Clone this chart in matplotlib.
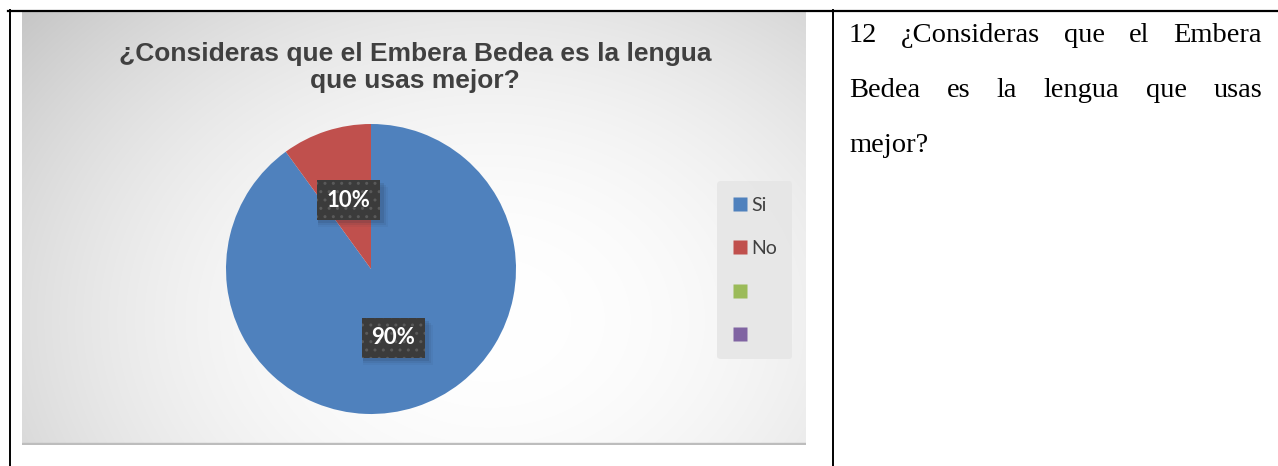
import numpy as np
import matplotlib
matplotlib.use("Agg")
import matplotlib.pyplot as plt
from matplotlib.lines import Line2D
from matplotlib.patches import Rectangle
from matplotlib.transforms import IdentityTransform

# Survey answers
categories = ["Si", "No", "", ""]
shares = [90, 10]
colors = ["#4f81bd", "#c0504d", "#9bbb59", "#8064a2"]
chart_title = "¿Consideras que el Embera Bedea es la lengua\nque usas mejor?"
question_lines = ["12 ¿Consideras que el Embera", "Bedea es la lengua que usas", "mejor?"]

W, H = 1278, 466
fig = plt.figure(figsize=(W / 100, H / 100), dpi=100)
fig.patch.set_facecolor("white")


def px_rect(x0, y0, x1, y1):
    return [x0 / W, 1 - y1 / H, (x1 - x0) / W, (y1 - y0) / H]


# Chart area with radial gradient background
cx0, cy0, cx1, cy1 = 22, 12, 806, 445
bg = fig.add_axes(px_rect(cx0, cy0, cx1, cy1))
gx = np.linspace(cx0, cx1, 400)
gy = np.linspace(cy0, cy1, 240)
X, Y = np.meshgrid(gx, gy)
r = np.sqrt(((X - 490) / 560) ** 2 + ((Y - 320) / 430) ** 2)
shade = 1.0 - 0.185 * np.clip(r, 0, 1.3) ** 2
bg.imshow(np.dstack([shade] * 3), extent=[cx0, cx1, cy1, cy0], aspect="auto",
          interpolation="bilinear")
bg.add_patch(Rectangle((cx0, cy1 - 2), cx1 - cx0, 2, color="#bdbdbd"))
bg.set_xlim(cx0, cx1)
bg.set_ylim(cy1, cy0)
bg.axis("off")

# Overlay axes in pixel units for table rules and free text
ov = fig.add_axes([0, 0, 1, 1], zorder=10)
ov.set_xlim(0, W)
ov.set_ylim(H, 0)
ov.axis("off")

for line, base in zip(chart_title.split("\n"), [61, 88]):
    ov.text(415, base, line, ha="center", va="baseline", fontsize=19,
            fontweight="bold", color="#404040", family="Liberation Sans")

# Pie
pcx, pcy, pr = 371, 269, 145
pie_ax = fig.add_axes(px_rect(pcx - pr, pcy - pr, pcx + pr, pcy + pr), zorder=2)
wedges, _, autotexts = pie_ax.pie(
    shares, colors=colors[:2], startangle=90, counterclock=False,
    autopct=lambda p: f"{p:.0f}%", pctdistance=0.5,
    wedgeprops=dict(linewidth=0))
pie_ax.set_xlim(-1, 1)
pie_ax.set_ylim(-1, 1)
pie_ax.set_aspect("equal")
for t in autotexts:
    t.set_color("white")
    t.set_fontsize(16)
    t.set_fontweight("bold")
    t.set_family("Lato")
    t.set_bbox(dict(boxstyle="square,pad=0.42", facecolor="#3b3b3b",
                    edgecolor="#5a5a5a", linewidth=0, hatch=".."))
    t.set_zorder(5)

# Soft drop shadows behind the value boxes (display pixel units)
fig.canvas.draw()
renderer = fig.canvas.get_renderer()
for t in autotexts:
    bb = t.get_bbox_patch().get_window_extent(renderer)
    for k, a in [(7, 0.05), (5, 0.08), (3, 0.12)]:
        pie_ax.add_patch(Rectangle((bb.x0 + 1, bb.y0 - k), bb.width + k, bb.height,
                                   facecolor="#1c2a3d", edgecolor="none", alpha=a,
                                   zorder=4, transform=IdentityTransform(),
                                   clip_on=False))

# Legend
handles = [Line2D([], [], marker="s", linestyle="none", markersize=10,
                  markerfacecolor=c, markeredgecolor="none") for c in colors]
leg = fig.legend(handles, categories, loc="upper left",
                 bbox_to_anchor=(717 / W, 1 - 181 / H), frameon=True,
                 fontsize=14, handlelength=0.8, handletextpad=0.15,
                 labelspacing=1.36, borderpad=0.8, borderaxespad=0)
leg.get_frame().set_facecolor("#e6e6e6")
leg.get_frame().set_edgecolor("none")
leg.get_frame().set_alpha(0.9)
for t in leg.get_texts():
    t.set_color("#404040")
    t.set_family("Lato")

# Table rules
ov.plot([8, W], [10.5, 10.5], color="black", lw=1.6)
ov.plot([9.5, 9.5], [10, H], color="black", lw=1.4)
ov.plot([833, 833], [10, H], color="black", lw=1.4)

# Question text, justified between the margins
left, right = 849, 1262
baselines = [42, 97, 152]
for i, (line, base) in enumerate(zip(question_lines, baselines)):
    words = line.split(" ")
    items = [ov.text(0, base, w, fontsize=20.5, family="Liberation Serif",
                     color="black", va="baseline", ha="left") for w in words]
    widths = [it.get_window_extent(renderer).width for it in items]
    if i < len(question_lines) - 1 and len(words) > 1:
        gap = (right - left - sum(widths)) / (len(words) - 1)
    else:
        gap = 6
    x = left
    for it, w in zip(items, widths):
        it.set_x(x)
        x += w + gap

fig.savefig("out.png", dpi=100)
